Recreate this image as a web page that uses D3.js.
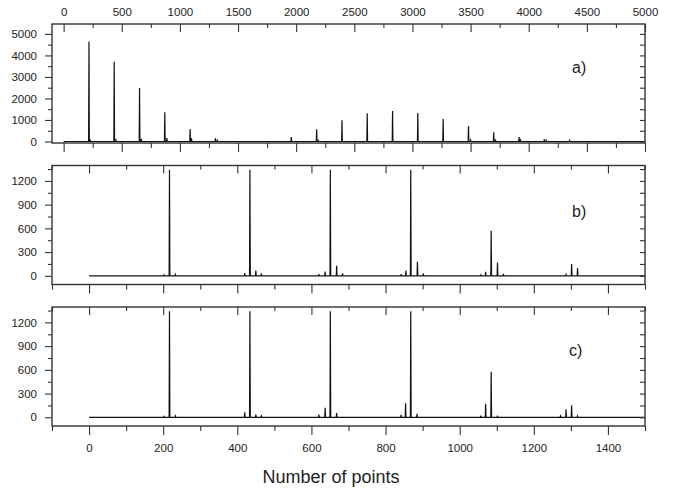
<!DOCTYPE html>
<html lang="en">
<head>
<meta charset="utf-8">
<script src="https://d3js.org/d3.v7.min.js"></script>
<style>
  body { margin: 0; background: #fff; }
  text { font-family: "Liberation Sans", Arial, sans-serif; fill: #222; }
</style>
</head>
<body>
<script>
// panel a) is on the top axis (0..5000), panels b) and c) on the bottom axis (0..1500)
var aPeakX = [218, 230, 435, 450, 653, 668, 870, 888, 1088, 1100, 1305, 1322, 1958, 2176, 2190,
              2394, 2611, 2829, 3046, 3264, 3482, 3500, 3699, 3715, 3917, 3930, 4134, 4150, 4352];
var aPeakY = [4650, 40, 3710, 60, 2480, 120, 1360, 160, 580, 150, 150, 90, 210, 570, 40,
              990, 1310, 1420, 1320, 1050, 720, 60, 430, 50, 210, 60, 100, 50, 50];

var bPeakX = [202, 217, 233, 420, 434, 450, 465, 620, 637, 651, 668, 684, 842, 855, 868, 886, 902,
              1057, 1070, 1085, 1102, 1118, 1287, 1302, 1318];
var bPeakY = [10, 1340, 15, 34, 1340, 67, 30, 20, 55, 1340, 126, 30, 20, 67, 1340, 176, 30,
              10, 50, 570, 168, 25, 15, 150, 97];

var cPeakX = [202, 217, 233, 420, 434, 450, 465, 620, 637, 651, 668, 842, 854, 868, 885,
              1057, 1070, 1085, 1102, 1272, 1287, 1302, 1318];
var cPeakY = [10, 1340, 15, 63, 1340, 34, 15, 34, 122, 1340, 55, 30, 176, 1340, 45,
              20, 172, 575, 20, 15, 101, 151, 15];

var topTicks = [0, 500, 1000, 1500, 2000, 2500, 3000, 3500, 4000, 4500, 5000];
var topMinor = [250, 750, 1250, 1750, 2250, 2750, 3250, 3750, 4250, 4750];
var botTicks = [0, 200, 400, 600, 800, 1000, 1200, 1400];
var botMinor = [-100, 100, 300, 500, 700, 900, 1100, 1300, 1500];
var aTicks = [0, 1000, 2000, 3000, 4000, 5000];
var aMinor = [500, 1500, 2500, 3500, 4500];
var bcTicks = [0, 300, 600, 900, 1200];
var bcMinor = [150, 450, 750, 1050, 1350];

var W = 676, H = 489;
var left = 52, right = 645, ph = 119;
var fmt = d3.format("d");

var svg = d3.select("body").append("svg")
    .attr("width", W).attr("height", H);

var xTop = d3.scaleLinear().domain([-100, 5000]).range([left, right]);
var xBot = d3.scaleLinear().domain([-100, 1500]).range([left, right]);

var panels = [
  {top: 24,    x: xTop, yd: [-70, 5460],  xs: [0, 5000], px: aPeakX, py: aPeakY, w: 3,
   yt: aTicks, ym: aMinor, xt: topTicks, xm: topMinor, label: "a)", lx: 572, ly: 73},
  {top: 165.5, x: xBot, yd: [-110, 1395], xs: [0, 1500], px: bPeakX, py: bPeakY, w: 1,
   yt: bcTicks, ym: bcMinor, xt: botTicks, xm: botMinor, label: "b)", lx: 572, ly: 217},
  {top: 307,   x: xBot, yd: [-110, 1395], xs: [0, 1500], px: cPeakX, py: cPeakY, w: 1,
   yt: bcTicks, ym: bcMinor, xt: botTicks, xm: botMinor, label: "c)", lx: 569, ly: 356}
];

function style(g) {
  g.select(".domain").remove();
  g.selectAll("line").attr("stroke", "#333").attr("stroke-width", 1.1);
  g.selectAll("text").attr("font-size", 11.5).attr("fill", "#222")
    .attr("font-family", "Liberation Sans, Arial, sans-serif");
}

panels.forEach(function(p, i) {
  var y = d3.scaleLinear().domain(p.yd).range([p.top + ph, p.top]);
  var g = svg.append("g");

  // spectrum: baseline with narrow spikes
  var pts = [[p.xs[0], 0]];
  p.px.forEach(function(v, j) {
    pts.push([v - p.w, 0], [v, p.py[j]], [v + p.w, 0]);
  });
  pts.push([p.xs[1], 0]);
  g.append("path")
    .attr("d", d3.line().x(function(d) { return p.x(d[0]); }).y(function(d) { return y(d[1]); })(pts))
    .attr("fill", "none").attr("stroke", "#111").attr("stroke-width", 1.2);

  // left (outward) ticks with labels
  g.append("g").attr("transform", "translate(" + left + ",0)")
    .call(d3.axisLeft(y).tickValues(p.yt).tickSize(7).tickPadding(8).tickFormat(fmt)).call(style);
  g.append("g").attr("transform", "translate(" + left + ",0)")
    .call(d3.axisLeft(y).tickValues(p.ym).tickSize(4).tickFormat("")).call(style);
  // right (inward)
  g.append("g").attr("transform", "translate(" + right + ",0)")
    .call(d3.axisRight(y).tickValues(p.yt.concat(p.ym)).tickSize(-5).tickFormat("")).call(style);

  // top (inward)
  var topAx = d3.axisTop(p.x).tickValues(p.xt).tickSize(-8).tickPadding(8)
    .tickFormat(i > 0 ? "" : fmt);
  g.append("g").attr("transform", "translate(0," + p.top + ")").call(topAx).call(style);
  g.append("g").attr("transform", "translate(0," + p.top + ")")
    .call(d3.axisTop(p.x).tickValues(p.xm).tickSize(-4).tickFormat("")).call(style);

  // bottom (outward)
  var botAx = d3.axisBottom(p.x).tickValues(p.xt).tickSize(9).tickPadding(9)
    .tickFormat(i < 2 ? "" : fmt);
  g.append("g").attr("transform", "translate(0," + (p.top + ph) + ")").call(botAx).call(style);
  g.append("g").attr("transform", "translate(0," + (p.top + ph) + ")")
    .call(d3.axisBottom(p.x).tickValues(p.xm).tickSize(5).tickFormat("")).call(style);

  // frame
  g.append("rect")
    .attr("x", left).attr("y", p.top)
    .attr("width", right - left).attr("height", ph)
    .attr("fill", "none").attr("stroke", "#333").attr("stroke-width", 1.4);

  g.append("text").attr("x", p.lx).attr("y", p.ly)
    .attr("font-size", 16).text(p.label);
});

svg.append("text")
  .attr("x", 331).attr("y", 483)
  .attr("text-anchor", "middle")
  .attr("font-size", 18)
  .text("Number of points");
</script>
</body>
</html>
